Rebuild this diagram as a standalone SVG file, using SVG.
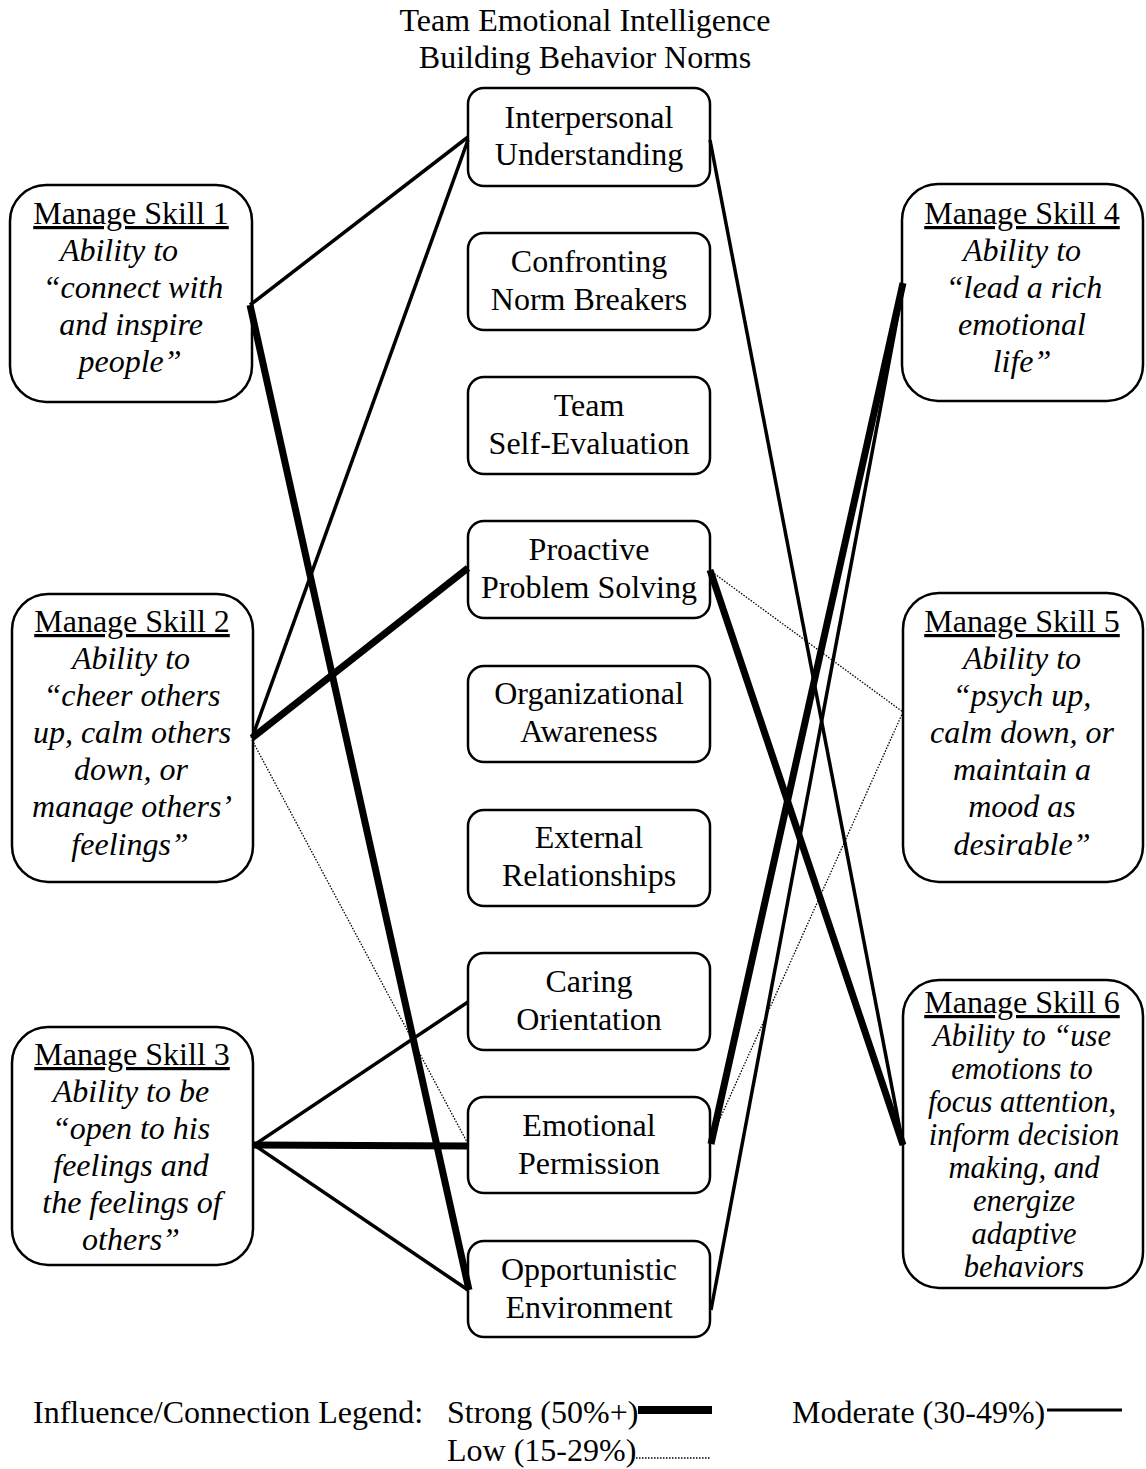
<svg xmlns="http://www.w3.org/2000/svg" width="1146" height="1469" viewBox="0 0 1146 1469">
<style>
text{font-family:"Liberation Serif","Times New Roman",serif;font-size:32px;fill:#000;text-anchor:middle}
.it{font-style:italic}
.s6{font-size:30.5px}
.u{text-decoration:underline}
.box{fill:#fff;stroke:#000;stroke-width:2.5}
.strong{stroke:#000;stroke-width:7;fill:none}
.mod{stroke:#000;stroke-width:3.5;fill:none}
.low{stroke:#000;stroke-width:1.3;stroke-dasharray:1.5 1.5;fill:none}
.leg{text-anchor:start}
</style>
<rect width="1146" height="1469" fill="#fff"/>
<g id="title">
<text x="585" y="31">Team Emotional Intelligence</text>
<text x="585" y="68">Building Behavior Norms</text>
</g>
<g id="n-iu"><rect class="box" x="468" y="88" width="242" height="98" rx="16"/><text x="589" y="128">Interpersonal</text><text x="589" y="165">Understanding</text></g>
<g id="n-cnb"><rect class="box" x="468" y="233" width="242" height="97" rx="16"/><text x="589" y="272">Confronting</text><text x="589" y="310">Norm Breakers</text></g>
<g id="n-tse"><rect class="box" x="468" y="377" width="242" height="97" rx="16"/><text x="589" y="416">Team</text><text x="589" y="454">Self-Evaluation</text></g>
<g id="n-pps"><rect class="box" x="468" y="521" width="242" height="97" rx="16"/><text x="589" y="560">Proactive</text><text x="589" y="598">Problem Solving</text></g>
<g id="n-oa"><rect class="box" x="468" y="666" width="242" height="96" rx="16"/><text x="589" y="704">Organizational</text><text x="589" y="742">Awareness</text></g>
<g id="n-er"><rect class="box" x="468" y="810" width="242" height="96" rx="16"/><text x="589" y="848">External</text><text x="589" y="886">Relationships</text></g>
<g id="n-co"><rect class="box" x="468" y="953" width="242" height="97" rx="16"/><text x="589" y="992">Caring</text><text x="589" y="1030">Orientation</text></g>
<g id="n-ep"><rect class="box" x="468" y="1097" width="242" height="96" rx="16"/><text x="589" y="1136">Emotional</text><text x="589" y="1174">Permission</text></g>
<g id="n-oe"><rect class="box" x="468" y="1241" width="242" height="96" rx="16"/><text x="589" y="1280">Opportunistic</text><text x="589" y="1318">Environment</text></g>

<g id="n-ms1"><rect class="box" x="10" y="185" width="242" height="217" rx="36"/>
<text x="131" y="224" class="u">Manage Skill 1</text>
<text class="it" x="119" y="261">Ability to</text>
<text class="it" x="133" y="298">“connect with</text>
<text class="it" x="131" y="335">and inspire</text>
<text class="it" x="130" y="372">people”</text></g>
<g id="n-ms2"><rect class="box" x="12" y="594" width="241" height="288" rx="36"/>
<text x="132" y="632" class="u">Manage Skill 2</text>
<text class="it" x="131" y="669">Ability to</text>
<text class="it" x="132" y="706">“cheer others</text>
<text class="it" x="132" y="743">up, calm others</text>
<text class="it" x="131" y="780">down, or</text>
<text class="it" x="132" y="817">manage others’</text>
<text class="it" x="130" y="855">feelings”</text></g>
<g id="n-ms3"><rect class="box" x="12" y="1027" width="241" height="238" rx="36"/>
<text x="132" y="1065" class="u">Manage Skill 3</text>
<text class="it" x="131" y="1102">Ability to be</text>
<text class="it" x="131" y="1139">“open to his</text>
<text class="it" x="131" y="1176">feelings and</text>
<text class="it" x="132" y="1213">the feelings of</text>
<text class="it" x="131" y="1250">others”</text></g>
<g id="n-ms4"><rect class="box" x="902" y="184" width="241" height="217" rx="36"/>
<text x="1022" y="224" class="u">Manage Skill 4</text>
<text class="it" x="1022" y="261">Ability to</text>
<text class="it" x="1024" y="298">“lead a rich</text>
<text class="it" x="1022" y="335">emotional</text>
<text class="it" x="1022" y="372">life”</text></g>
<g id="n-ms5"><rect class="box" x="903" y="593" width="240" height="289" rx="36"/>
<text x="1022" y="632" class="u">Manage Skill 5</text>
<text class="it" x="1022" y="669">Ability to</text>
<text class="it" x="1022" y="706">“psych up,</text>
<text class="it" x="1022" y="743">calm down, or</text>
<text class="it" x="1022" y="780">maintain a</text>
<text class="it" x="1022" y="817">mood as</text>
<text class="it" x="1022" y="855">desirable”</text></g>
<g id="n-ms6"><rect class="box" x="903" y="980" width="240" height="308" rx="36"/>
<text x="1022" y="1013" class="u">Manage Skill 6</text>
<text class="it s6" x="1022" y="1046">Ability to “use</text>
<text class="it s6" x="1022" y="1079">emotions to</text>
<text class="it s6" x="1022" y="1112">focus attention,</text>
<text class="it s6" x="1024" y="1145">inform decision</text>
<text class="it s6" x="1024" y="1178">making, and</text>
<text class="it s6" x="1024" y="1211">energize</text>
<text class="it s6" x="1024" y="1244">adaptive</text>
<text class="it s6" x="1024" y="1277">behaviors</text></g>

<g id="connectors">
<line class="mod" x1="250" y1="305" x2="468" y2="137"/>
<line class="strong" x1="250" y1="305" x2="469" y2="1290"/>
<line class="mod" x1="252" y1="738" x2="468" y2="140"/>
<line class="strong" x1="252" y1="738" x2="468" y2="568"/>
<line class="low" x1="252" y1="740" x2="467" y2="1142"/>
<line class="mod" x1="254" y1="1145" x2="468" y2="1002"/>
<line class="strong" x1="254" y1="1145" x2="468" y2="1146"/>
<line class="mod" x1="254" y1="1145" x2="468" y2="1290"/>
<line class="mod" x1="710" y1="140" x2="903" y2="1145"/>
<line class="strong" x1="710" y1="570" x2="903" y2="1145"/>
<line class="low" x1="712" y1="572" x2="903" y2="712"/>
<line class="low" x1="903" y1="712" x2="714" y2="1132"/>
<line class="strong" x1="903" y1="283" x2="711" y2="1144"/>
<line class="mod" x1="903" y1="288" x2="711" y2="1310"/>
</g>

<g id="legend">
<text class="leg" x="33" y="1423">Influence/Connection Legend:</text>
<text class="leg" x="447" y="1423">Strong (50%+)</text>
<line x1="638" y1="1410" x2="712" y2="1410" stroke="#000" stroke-width="8"/>
<text class="leg" x="792" y="1423">Moderate (30-49%)</text>
<line x1="1047" y1="1410" x2="1122" y2="1410" stroke="#000" stroke-width="3"/>
<text class="leg" x="447" y="1461">Low (15-29%)</text>
<line class="low" x1="636" y1="1458" x2="710" y2="1458"/>
</g>
</svg>
